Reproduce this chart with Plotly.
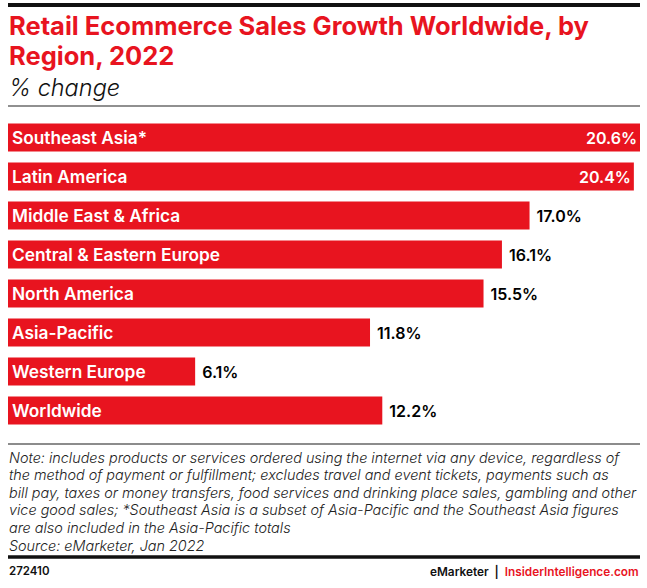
import plotly.graph_objects as go

regions = ["Southeast Asia*", "Latin America", "Middle East & Africa", "Central & Eastern Europe",
           "North America", "Asia-Pacific", "Western Europe", "Worldwide"]
growth = [20.6, 20.4, 17.0, 16.1, 15.5, 11.8, 6.1, 12.2]

RED = "#e8141f"
FONT = "Inter"
W, H = 647, 588
LEFT, RIGHT, TOP, BOTTOM = 8, 640, 118, 430

note_lines = [
    "Note: includes products or services ordered using the internet via any device, regardless of",
    "the method of payment or fulfillment; excludes travel and event tickets, payments such as",
    "bill pay, taxes or money transfers, food services and drinking place sales, gambling and other",
    "vice good sales; *Southeast Asia is a subset of Asia-Pacific and the Southeast Asia figures",
    "are also included in the Asia-Pacific totals",
    "Source: eMarketer, Jan 2022",
]

# the two longest bars carry their label inside, in white
text_pos = ["inside" if v > 20 else "outside" for v in growth]
text_col = ["white" if v > 20 else "black" for v in growth]
# nbsp pushes the outside labels a little further off the bar end
value_text = [f"{v:.1f}%" if v > 20 else f"\u00a0{v:.1f}%" for v in growth]

fig = go.Figure()
fig.add_trace(go.Bar(
    x=growth, y=regions, orientation="h",
    marker=dict(color=RED, line_width=0),
    text=value_text,
    textposition=text_pos,
    insidetextanchor="end",
    constraintext="none",
    cliponaxis=False,
    textfont=dict(family=FONT, size=16, color=text_col, weight=600),
))


# paper coordinates are relative to the plot area, so convert from page pixels
def px(x):
    return (x - LEFT) / (RIGHT - LEFT)


def py(y):
    return (BOTTOM - y) / (BOTTOM - TOP)


def label(x, y, text, size, color="black", anchor="left", **font):
    fig.add_annotation(xref="paper", yref="paper", x=px(x), y=py(y), text=text, showarrow=False,
                       xanchor=anchor, yanchor="middle", align=anchor, borderpad=0,
                       font=dict(family=FONT, size=size, color=color, **font))


def rule(y, width, color="black"):
    fig.add_shape(type="line", xref="paper", yref="paper", x0=0, x1=1, y0=py(y), y1=py(y),
                  line=dict(color=color, width=width))


rule(5, 4, "#111111")
rule(106, 1.2, "#222222")
rule(444, 1.5, "#666666")
rule(557, 3.5, "#111111")

label(8, 26, "Retail Ecommerce Sales Growth Worldwide, by", 25.5, RED, weight=700)
label(8, 55, "Region, 2022", 25.5, RED, weight=700)
label(8, 88, "% change", 23.5, "#111111", style="italic", weight=300)

for i, line in enumerate(note_lines):
    label(8, 457 + i * 17.6, line, 14.4, "#222222", style="italic", weight=300)

label(8, 571, "272410", 11.5, "#111111", weight=600)
label(640, 571, f"eMarketer  |  <span style='color:{RED}'>InsiderIntelligence.com</span>",
      11.8, "#111111", anchor="right", weight=600)

fig.update_layout(
    width=W, height=H,
    margin=dict(l=LEFT, r=W - RIGHT, t=TOP, b=H - BOTTOM),
    paper_bgcolor="white", plot_bgcolor="white",
    bargap=0.28, showlegend=False,
)
fig.update_xaxes(range=[0, 20.6], visible=False)
fig.update_yaxes(autorange="reversed", showgrid=False, zeroline=False, showline=False, ticks="",
                 ticklabelposition="inside", ticklabelstandoff=1,
                 tickfont=dict(family=FONT, size=17.3, color="white", weight=600))

# page body has an 8px default margin that would shift everything
fig.write_html("out.html", config={"displayModeBar": False},
               post_script="document.body.style.margin = '0';")
